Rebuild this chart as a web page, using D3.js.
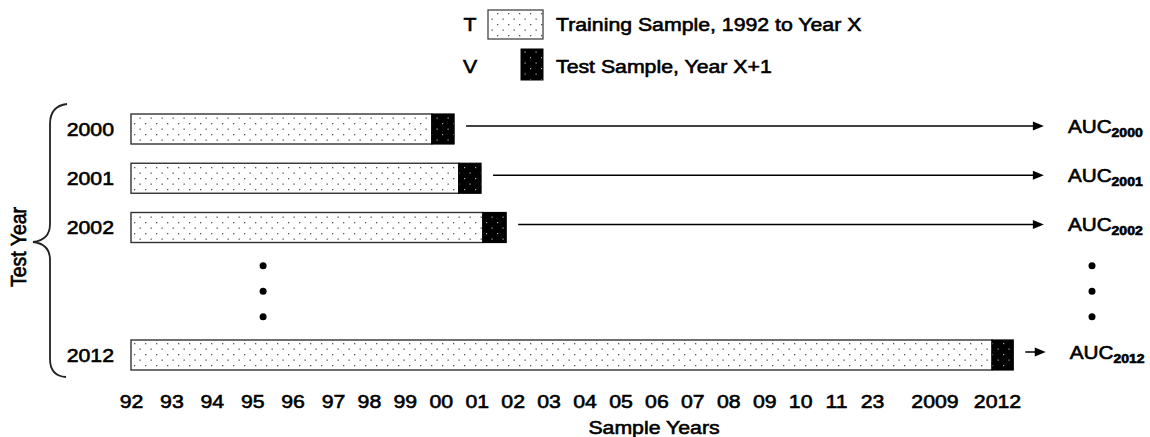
<!DOCTYPE html>
<html><head><meta charset="utf-8">
<script src="https://cdn.jsdelivr.net/npm/d3@7"></script>
<style>
html,body{margin:0;padding:0;background:#fff;}
svg{display:block;}
text{font-family:"Liberation Sans",Arial,sans-serif;fill:#000;}
</style></head><body>
<svg id="chart" width="1150" height="437"></svg>
<script>
// ---- data ----
const tickLabels = ["92","93","94","95","96","97","98","99","00","01","02","03","04","05","06","07","08","09","10","11","23","2009","2012"];
const testYears = [2000, 2001, 2002, 2012];
const trainStart = [0, 0, 0, 0];          // in sample-year axis units (tick index)
const trainEnd   = [7.75, 8.5, 9.17, 21.92];
const testEnd    = [8.37, 9.12, 9.82, 22.26];
const arrowEnd   = [22.75, 22.75, 22.75, 22.78];
const ellipsisRows = [2005, 2007, 2009];
const ellipsisCols = [3.27, 23.52];
const legendKeys = ["T", "V"];
const legendLabels = ["Training Sample, 1992 to Year X", "Test Sample, Year X+1"];
const xTitle = "Sample Years";
const yTitle = "Test Year";
const resultPrefix = "AUC";

// ---- setup ----
const svg = d3.select("#chart");
const SX = 1.12; // horizontal stretch of the original picture
const FS = 19;
const FW = "normal";
const SW = 0.6;  // text stroke to thicken glyphs

const x = d3.scaleLinear().domain([0, 5, 20, 22]).range([131, 333, 872, 997]);
const y = d3.scaleLinear().domain([2000, 2002, 2012]).range([129, 227.5, 355]);
const barH = 30;

const defs = svg.append("defs");
const pTrain = defs.append("pattern").attr("id","pTrain").attr("patternUnits","userSpaceOnUse")
  .attr("width",11).attr("height",11);
pTrain.append("rect").attr("width",11).attr("height",11).attr("fill","#fff");
pTrain.append("rect").attr("x",2).attr("y",2).attr("width",1.3).attr("height",1.3).attr("fill","#555");
pTrain.append("rect").attr("x",7.5).attr("y",7.5).attr("width",1.3).attr("height",1.3).attr("fill","#555");
const pTest = defs.append("pattern").attr("id","pTest").attr("patternUnits","userSpaceOnUse")
  .attr("width",11).attr("height",11);
pTest.append("rect").attr("width",11).attr("height",11).attr("fill","#000");
pTest.append("rect").attr("x",2).attr("y",2).attr("width",1.2).attr("height",1.2).attr("fill","#aaa");
pTest.append("rect").attr("x",7.5).attr("y",7.5).attr("width",1.2).attr("height",1.2).attr("fill","#aaa");

function stext(g, tx, ty, str, opts = {}) {
  return g.append("text")
    .attr("transform", `translate(${tx},${ty}) scale(${SX},1)`)
    .attr("text-anchor", opts.anchor || "start")
    .attr("font-size", opts.size || FS)
    .attr("font-weight", opts.weight || FW)
    .attr("stroke", "#000").attr("stroke-width", SW)
    .text(str);
}

// ---- legend ----
const lg = svg.append("g");
const legendRowY = [24, 66];
legendKeys.forEach((k, i) => {
  stext(lg, 470, legendRowY[i] + 6.5, k, {anchor: "middle"});
  stext(lg, 556, legendRowY[i] + 6.5, legendLabels[i]);
});
lg.append("rect").attr("x",488).attr("y",10).attr("width",55).attr("height",29)
  .attr("fill","url(#pTrain)").attr("stroke","#444").attr("stroke-width",1.3);
lg.append("rect").attr("x",521).attr("y",49).attr("width",22).attr("height",31)
  .attr("fill","url(#pTest)").attr("stroke","#000").attr("stroke-width",1);

// ---- bars ----
const rows = testYears.map((yr, i) => ({yr, s: trainStart[i], e: trainEnd[i], t: testEnd[i], a: arrowEnd[i]}));
const rg = svg.append("g").selectAll("g").data(rows).join("g");
rg.append("rect")
  .attr("x", d => x(d.s)).attr("y", d => y(d.yr) - barH/2)
  .attr("width", d => x(d.e) - x(d.s)).attr("height", barH)
  .attr("fill","url(#pTrain)").attr("stroke","#333").attr("stroke-width",1.4);
rg.append("rect")
  .attr("x", d => x(d.e)).attr("y", d => y(d.yr) - barH/2)
  .attr("width", d => x(d.t) - x(d.e)).attr("height", barH)
  .attr("fill","url(#pTest)").attr("stroke","#000").attr("stroke-width",1.2);
// year labels
rg.each(function(d){
  stext(d3.select(this), 114, y(d.yr) + 6.5, String(d.yr), {anchor: "end"});
});
// arrows
rg.append("line")
  .attr("x1", d => x(d.t) + 12).attr("x2", d => x(d.a) - 8)
  .attr("y1", d => y(d.yr) - 3).attr("y2", d => y(d.yr) - 3)
  .attr("stroke","#000").attr("stroke-width",1.5);
rg.append("path")
  .attr("d", d => { const ax = x(d.a), ay = y(d.yr) - 3; return `M${ax},${ay} L${ax-11},${ay-4.5} L${ax-11},${ay+4.5} Z`; })
  .attr("fill","#000");
// AUC labels
rg.each(function(d){
  const t = d3.select(this).append("text")
    .attr("transform", `translate(${x(d.a) + 24},${y(d.yr) + 3.5}) scale(${SX},1)`)
    .attr("font-size", 18.5).attr("font-weight","normal")
    .attr("stroke", "#000").attr("stroke-width", SW);
  t.append("tspan").text(resultPrefix);
  t.append("tspan").attr("font-size", 12.5).attr("font-weight","bold").attr("dy", 4).text(String(d.yr));
});

// ellipsis dots
svg.append("g").selectAll("circle").data(ellipsisRows.flatMap(r => ellipsisCols.map(c => ({r, c})))).join("circle")
  .attr("cx", d => x(d.c)).attr("cy", d => y(d.r)).attr("r", 3.5).attr("fill","#000");

// ---- x axis ----
const xAxis = d3.axisBottom(x)
  .tickValues(d3.range(tickLabels.length))
  .tickFormat(i => tickLabels[i])
  .tickSize(0).tickPadding(0);
const xg = svg.append("g").attr("transform","translate(0,395)").call(xAxis);
xg.select(".domain").remove();
xg.selectAll("text")
  .attr("font-family", "Liberation Sans, Arial, sans-serif")
  .attr("font-size", FS).attr("font-weight", FW).attr("fill","#000")
  .attr("stroke", "#000").attr("stroke-width", SW)
  .attr("y", 0).attr("dy", "0.7em")
  .attr("transform", `scale(${SX},1)`);

stext(svg, 654, 434, xTitle, {anchor: "middle"});

// ---- y title and brace ----
svg.append("text")
  .attr("transform", `translate(26,247) scale(${SX},1) rotate(-90)`)
  .attr("text-anchor","middle").attr("font-size", 19.5).attr("font-weight", FW)
  .attr("stroke", "#000").attr("stroke-width", SW)
  .text(yTitle);

const brace = d3.path();
brace.moveTo(67, 104);
brace.quadraticCurveTo(50, 106, 50, 124);
brace.lineTo(50, 224);
brace.quadraticCurveTo(50, 240, 33, 242);
brace.quadraticCurveTo(50, 244, 50, 260);
brace.lineTo(50, 359);
brace.quadraticCurveTo(50, 376, 66, 377);
svg.append("path").attr("d", brace.toString()).attr("fill","none")
  .attr("stroke","#222").attr("stroke-width",1.8);
</script>
</body></html>
